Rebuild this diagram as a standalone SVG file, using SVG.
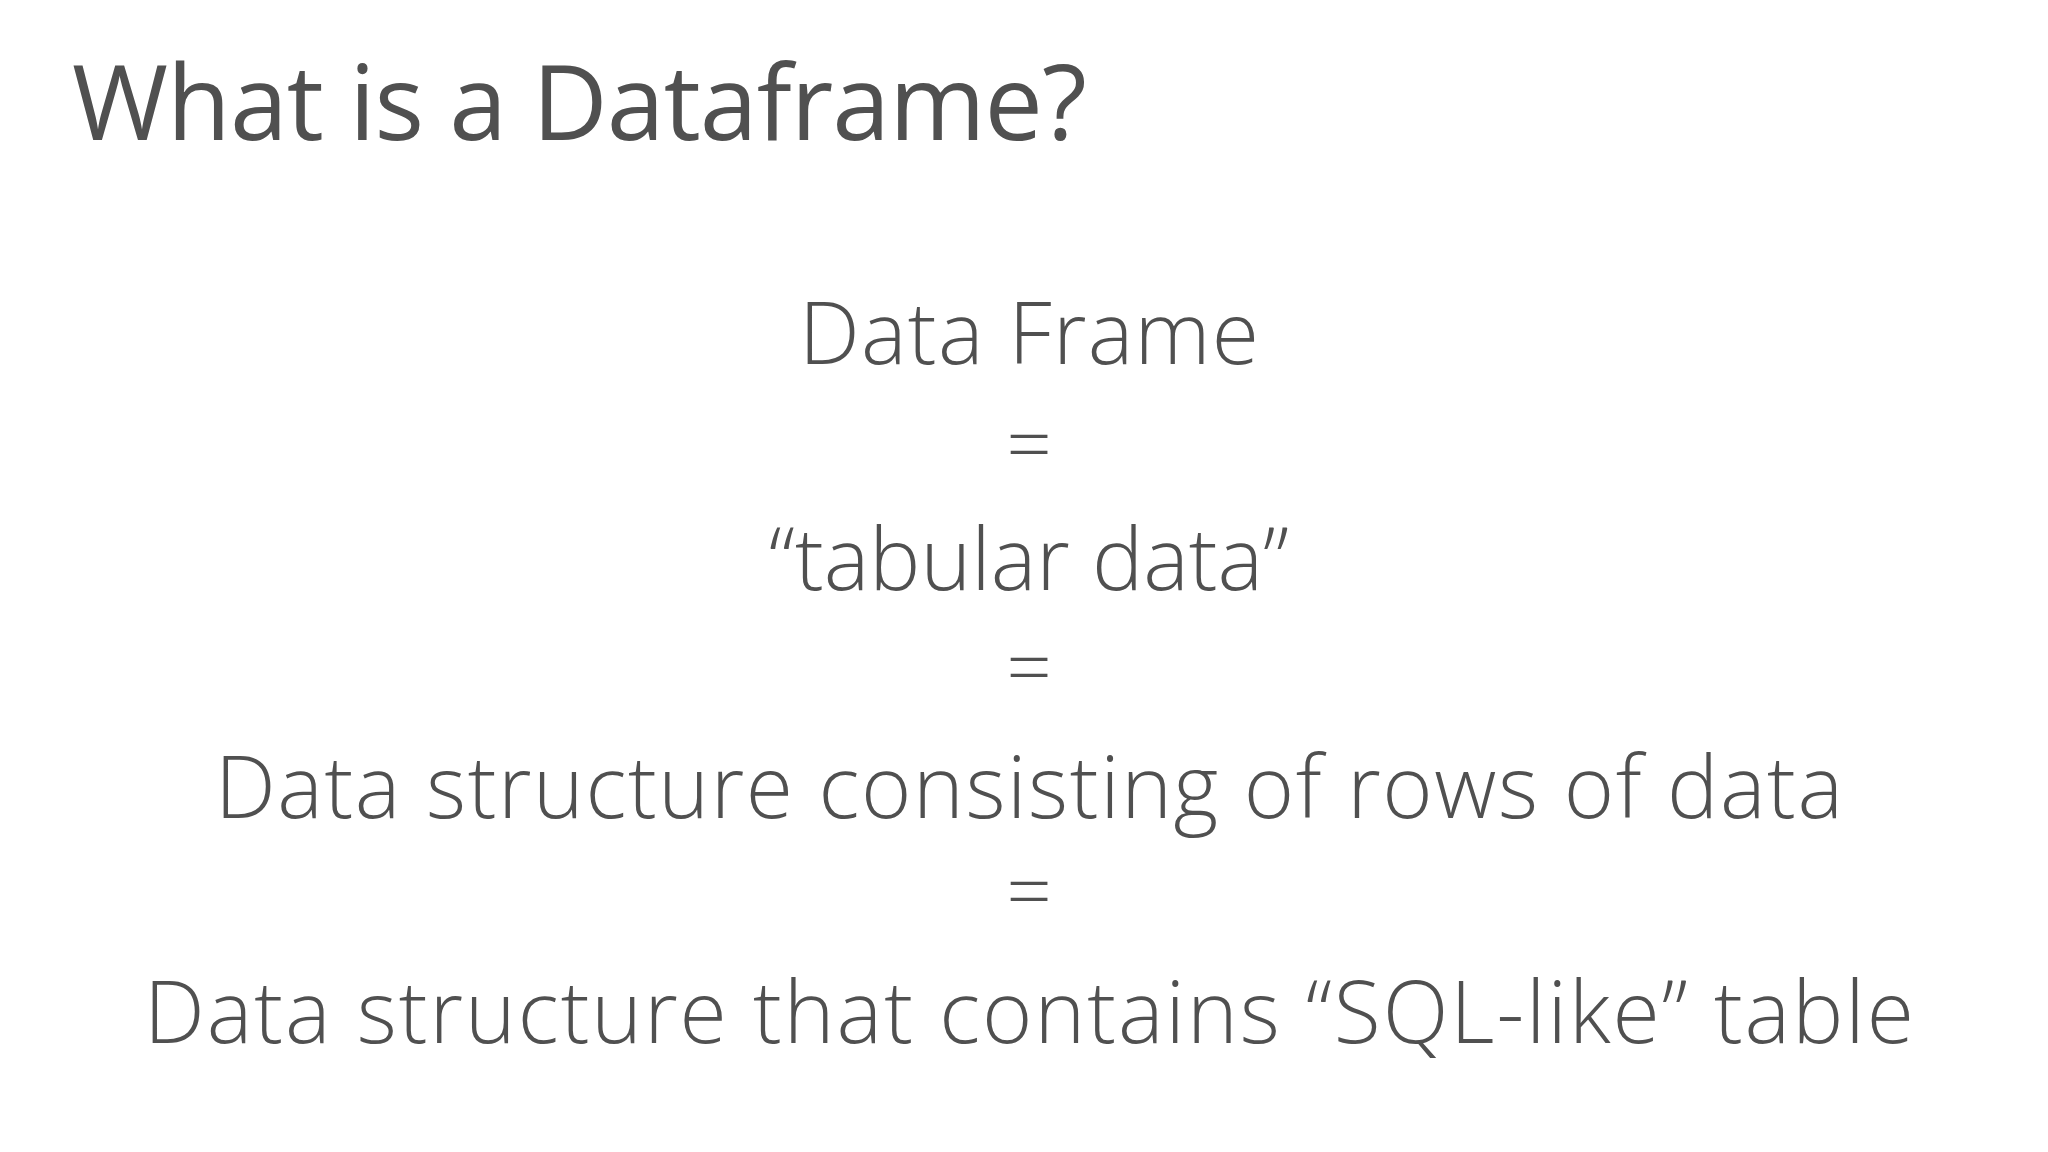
<svg xmlns="http://www.w3.org/2000/svg" width="2048" height="1152" viewBox="0 0 2048 1152">
<style>
.t{font-family:"Open Sans","Noto Sans","Liberation Sans",sans-serif;fill:#505050;font-weight:300}
.h{font-weight:400;font-size:104px}
.c{text-anchor:middle;font-size:86px}
.e{text-anchor:middle;font-size:80px}
</style>
<rect width="2048" height="1152" fill="#ffffff"/>
<g id="title"><text class="t h" x="72" y="140" textLength="1015">What is a Dataframe?</text></g>
<g id="lines">
<text class="t c" x="1029" y="364" textLength="460">Data Frame</text>
<text class="t e" x="1029" y="472">=</text>
<text class="t c" x="1029" y="590">“tabular data”</text>
<text class="t e" x="1029" y="695">=</text>
<text class="t c" x="1029" y="818" textLength="1628">Data structure consisting of rows of data</text>
<text class="t e" x="1029" y="919">=</text>
<text class="t c" x="1029" y="1043" textLength="1770">Data structure that contains “SQL-like” table</text>
</g>
</svg>
